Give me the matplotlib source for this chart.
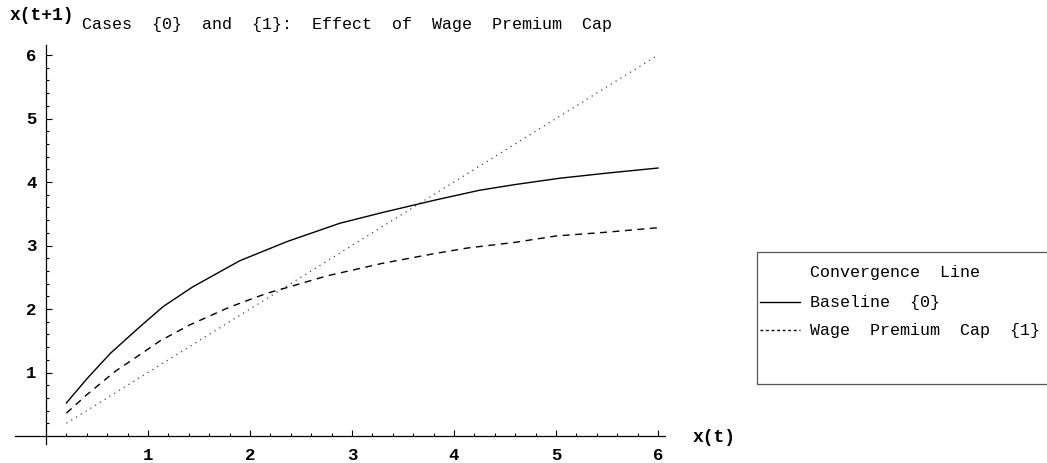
import numpy as np
import matplotlib.pyplot as plt
from matplotlib.lines import Line2D
from matplotlib.patches import Rectangle

# values
x_base = [0.2, 0.4, 0.63, 0.92, 1.15, 1.44, 1.9, 2.36, 2.88, 3.3, 3.8, 4.25, 4.6, 5.04, 5.5, 6.0]
y_base = [0.52, 0.9, 1.3, 1.72, 2.04, 2.35, 2.76, 3.06, 3.35, 3.52, 3.71, 3.87, 3.96, 4.06, 4.14, 4.22]

x_cap = [0.2, 0.4, 0.68, 0.92, 1.12, 1.41, 1.8, 2.17, 2.39, 2.75, 3.3, 3.8, 4.13, 4.6, 5.0, 5.5, 6.0]
y_cap = [0.36, 0.65, 1.02, 1.28, 1.5, 1.75, 2.03, 2.25, 2.35, 2.52, 2.72, 2.87, 2.96, 3.05, 3.15, 3.21, 3.28]

x_conv = [0.2, 6.0]
y_conv = [0.2, 6.0]

title = 'Cases  {0}  and  {1}:  Effect  of  Wage  Premium  Cap'
labels = ['Convergence  Line', 'Baseline  {0}', 'Wage  Premium  Cap  {1}']

W, H = 1047, 463
fig = plt.figure(figsize=(W / 100, H / 100), dpi=100)

# axes placed so that x=0 -> px 46, x=6 -> px 658, y=0 -> px 436, y=6 -> px 55
xlo, xhi = -0.35, 6.1
ylo, yhi = -0.15, 6.15
px_x = lambda v: 46 + v * 102
px_y = lambda v: 436 - v * 63.5
left, right = px_x(xlo), px_x(xhi)
top, bottom = px_y(yhi), px_y(ylo)
ax = fig.add_axes([left / W, 1 - bottom / H, (right - left) / W, (bottom - top) / H])
ax.set_xlim(xlo, xhi)
ax.set_ylim(ylo, yhi)

ax.plot(x_conv, y_conv, color='#444444', lw=0.9, linestyle=(0, (1, 3.5)))
ax.plot(x_base, y_base, color='black', lw=1.0)
ax.plot(x_cap, y_cap, color='black', lw=1.0, linestyle=(0, (5, 4)))

for s in ['top', 'right']:
    ax.spines[s].set_visible(False)
ax.spines['left'].set_position(('data', 0))
ax.spines['bottom'].set_position(('data', 0))
ax.spines['left'].set_bounds(-0.12, 6.15)
ax.spines['bottom'].set_bounds(-0.3, 6.07)
ax.spines['left'].set_linewidth(0.9)
ax.spines['bottom'].set_linewidth(0.9)

ax.set_xticks([1, 2, 3, 4, 5, 6])
ax.set_yticks([1, 2, 3, 4, 5, 6])
ax.set_xticks(np.arange(0.2, 6.01, 0.2), minor=True)
ax.set_yticks(np.arange(0.2, 6.01, 0.2), minor=True)
ax.tick_params(which='both', direction='in', width=0.8, labelsize=12.5)
ax.tick_params(which='major', length=4.5)
ax.tick_params(which='minor', length=2.5)
ax.tick_params(axis='y', pad=7)
ax.tick_params(axis='x', pad=9)
for lab in ax.get_xticklabels() + ax.get_yticklabels():
    lab.set_fontfamily('Liberation Mono')
    lab.set_fontweight('bold')

mono = 'Liberation Mono'
fig.text(10 / W, 1 - 16 / H, 'x(t+1)', family=mono, fontsize=13, weight='bold', va='center', ha='left')
fig.text(82 / W, 1 - 24 / H, title, family=mono, fontsize=12, va='center', ha='left')
fig.text(693 / W, 1 - 437 / H, 'x(t)', family=mono, fontsize=13, weight='bold', va='center', ha='left')

# legend box, right side runs off the figure like the reference
lx0, ly0, ly1 = 757, 252, 384
fig.patches.append(Rectangle((lx0 / W, 1 - ly1 / H), (W + 60 - lx0) / W, (ly1 - ly0) / H,
                             transform=fig.transFigure, fill=False, edgecolor='#555555', lw=0.9))
rows = [272, 302, 330]
styles = [None,
          dict(color='black', lw=1.0),
          dict(color='black', lw=1.0, linestyle=(0, (2, 2)))]
for yy, lab, st in zip(rows, labels, styles):
    if st is not None:
        fig.lines.append(Line2D([760 / W, 800 / W], [1 - yy / H, 1 - yy / H],
                                transform=fig.transFigure, **st))
    fig.text(810 / W, 1 - yy / H, lab, family=mono, fontsize=12, va='center', ha='left')

plt.savefig('out.png', dpi=100)
